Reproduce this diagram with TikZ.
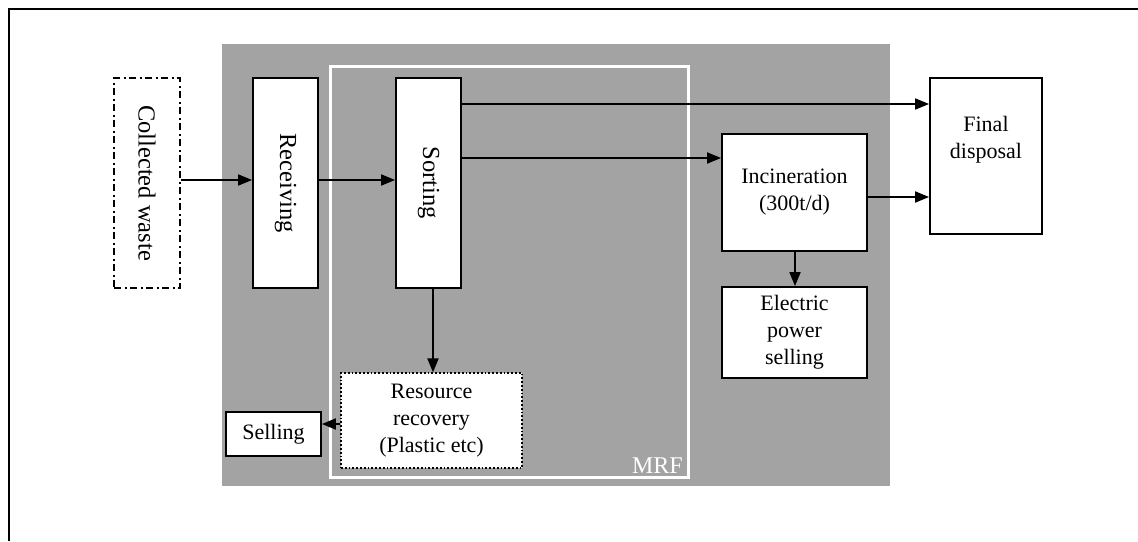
\documentclass[tikz,border=0pt]{standalone}
\usepackage{fontspec}
\usepackage{graphicx}
\setmainfont{Liberation Serif}
\usetikzlibrary{arrows.meta}
\definecolor{bggray}{RGB}{163,163,163}
\tikzset{
  box/.style={draw=black, line width=1.8pt, fill=white, inner sep=0pt, align=center,
    font=\fontsize{22}{27}\selectfont},
  rotbox/.style={box, font=\fontsize{24.5}{29}\selectfont},
  txt/.style={inner sep=0pt, align=center, font=\fontsize{22}{27}\selectfont},
  arr/.style={line width=1.8pt, -{Triangle[length=14pt,width=11pt]}},
}
\begin{document}
\begin{tikzpicture}[x=1pt,y=-1pt]
\useasboundingbox (0,0) rectangle (1138,541);
% outer frame (top and left visible)
\draw[line width=2.8pt] (9,541) -- (9,9) -- (1138,9);
% gray area
\fill[bggray] (222,44) rectangle (890,486);
% MRF white frame
\draw[white, line width=3pt] (330,66) rectangle (688,477);
\node[txt, text=white, anchor=south east, font=\fontsize{24}{28}\selectfont] (mrf) at (683,474) {MRF};
% nodes
\node[rotbox, line width=1.6pt, dash pattern=on 7pt off 3.5pt on 2pt off 3.5pt, minimum width=66pt, minimum height=210pt] (cw) at (147,183) {\rotatebox{-90}{Collected waste}};
\node[rotbox, minimum width=65pt, minimum height=210pt] (rec) at (285.5,183) {\rotatebox{-90}{Receiving}};
\node[rotbox, minimum width=65pt, minimum height=210pt] (sort) at (428.5,183) {\rotatebox{-90}{Sorting}};
\node[box, minimum width=145pt, minimum height=117pt] (inc) at (794.5,192.5) {Incineration\\(300t/d)};
\node[box, minimum width=145pt, minimum height=91pt] (elec) at (794.5,332.5) {Electric\\power\\selling};
\node[box, minimum width=112pt, minimum height=156pt] (fin) at (986,156) {};
\node[txt] (fintxt) at (986,140) {Final\\disposal};
\node[box, dotted, line width=1.2pt, minimum width=181pt, minimum height=95pt] (res) at (431.5,420.5) {Resource\\recovery\\(Plastic etc)};
\node[box, minimum width=95pt, minimum height=44pt] (sell) at (273.5,434) {Selling};
% connectors
\draw[arr] (cw.east |- 0,180) -- (rec.west |- 0,180);
\draw[arr] (rec.east |- 0,180) -- (sort.west |- 0,180);
\draw[arr] (sort.east |- 0,104) -- (fin.west |- 0,104);
\draw[arr] (sort.east |- 0,158) -- (inc.west |- 0,158);
\draw[arr] (inc.east |- 0,197) -- (fin.west |- 0,197);
\draw[arr] (inc.south -| 795,0) -- (elec.north -| 795,0);
\draw[arr] (sort.south -| 433,0) -- (res.north -| 433,0);
\draw[arr] (res.west |- 0,424) -- (sell.east |- 0,424);
\end{tikzpicture}
\end{document}
